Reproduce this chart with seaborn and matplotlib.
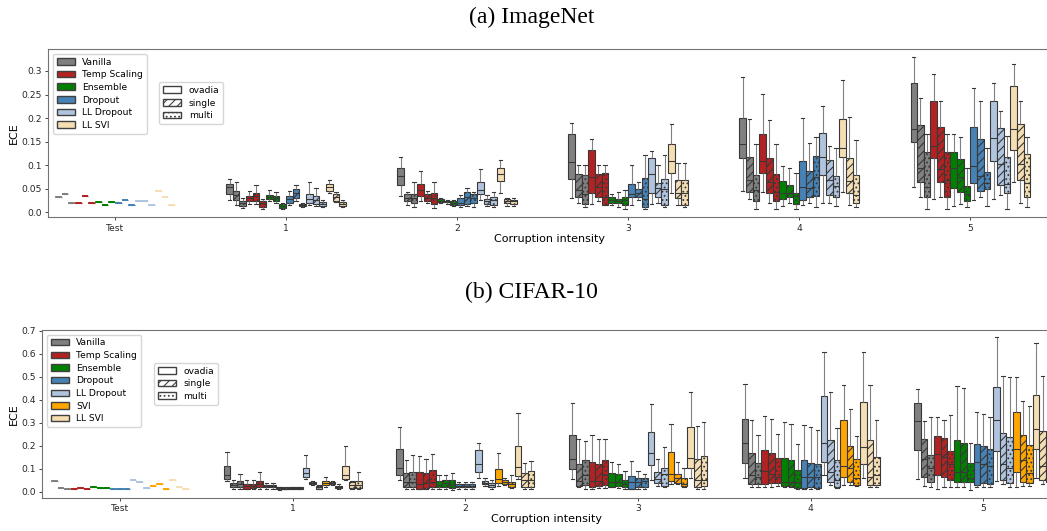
import numpy as np
import pandas as pd
import matplotlib
matplotlib.use("Agg")
import matplotlib.pyplot as plt
import seaborn as sns
from matplotlib.patches import Patch

# ---------------- data ----------------
TYPES = ["ovadia", "single", "multi"]
HATCHES = ["", "////", "...."]
INTENSITIES = ["Test", "1", "2", "3", "4", "5"]

IN_METHODS = ["Vanilla", "Temp Scaling", "Ensemble", "Dropout", "LL Dropout", "LL SVI"]
IN_COLORS = ["grey", "firebrick", "green", "steelblue", "lightsteelblue", "wheat"]
C10_METHODS = ["Vanilla", "Temp Scaling", "Ensemble", "Dropout", "LL Dropout", "SVI", "LL SVI"]
C10_COLORS = ["grey", "firebrick", "green", "steelblue", "lightsteelblue", "orange", "wheat"]

IN_YTICKS = [0.0, 0.05, 0.1, 0.15, 0.2, 0.25, 0.3]
IN_YTICKLABELS = ["0.0", "0.05", "0.1", "0.15", "0.2", "0.25", "0.3"]
C10_YTICKS = [0.0, 0.1, 0.2, 0.3, 0.4, 0.5, 0.6, 0.7]
C10_YTICKLABELS = ["0.0", "0.1", "0.2", "0.3", "0.4", "0.5", "0.6", "0.7"]

# ImageNet: test values (one per method/type), then per intensity
# each box: [whisker high, q3, median, q1, whisker low]
IN_TEST = [0.033, 0.039, 0.020, 0.019, 0.035, 0.020, 0.022, 0.016, 0.022,
           0.020, 0.026, 0.016, 0.024, 0.024, 0.015, 0.045, 0.032, 0.015]
IN_1 = [
    [0.070, 0.061, 0.053, 0.038, 0.026], [0.065, 0.045, 0.036, 0.027, 0.015], [0.030, 0.024, 0.019, 0.013, 0.010],
    [0.046, 0.035, 0.030, 0.024, 0.018], [0.057, 0.042, 0.035, 0.025, 0.018], [0.029, 0.024, 0.019, 0.012, 0.008],
    [0.047, 0.037, 0.033, 0.029, 0.023], [0.044, 0.035, 0.030, 0.024, 0.019], [0.020, 0.018, 0.013, 0.009, 0.008],
    [0.045, 0.035, 0.028, 0.020, 0.015], [0.058, 0.049, 0.042, 0.031, 0.025], [0.020, 0.018, 0.015, 0.013, 0.011],
    [0.064, 0.038, 0.028, 0.020, 0.015], [0.051, 0.035, 0.026, 0.018, 0.013], [0.026, 0.021, 0.018, 0.013, 0.011],
    [0.069, 0.061, 0.054, 0.045, 0.040], [0.044, 0.038, 0.032, 0.025, 0.022], [0.026, 0.021, 0.018, 0.013, 0.011],
]
IN_2 = [
    [0.117, 0.093, 0.076, 0.058, 0.035], [0.044, 0.038, 0.030, 0.023, 0.015], [0.064, 0.038, 0.030, 0.019, 0.011],
    [0.088, 0.061, 0.047, 0.035, 0.023], [0.045, 0.039, 0.031, 0.023, 0.019], [0.065, 0.040, 0.030, 0.018, 0.010],
    [0.030, 0.028, 0.025, 0.022, 0.019], [0.026, 0.025, 0.023, 0.021, 0.018], [0.026, 0.023, 0.020, 0.015, 0.013],
    [0.037, 0.030, 0.020, 0.015, 0.012], [0.052, 0.044, 0.033, 0.018, 0.013], [0.044, 0.039, 0.030, 0.020, 0.012],
    [0.091, 0.064, 0.047, 0.038, 0.026], [0.037, 0.028, 0.023, 0.018, 0.013], [0.044, 0.033, 0.026, 0.015, 0.012],
    [0.110, 0.095, 0.081, 0.066, 0.040], [0.031, 0.028, 0.024, 0.019, 0.013], [0.030, 0.026, 0.023, 0.018, 0.013],
]
IN_3 = [
    [0.189, 0.166, 0.106, 0.070, 0.030], [0.100, 0.081, 0.047, 0.032, 0.019], [0.100, 0.079, 0.039, 0.018, 0.012],
    [0.156, 0.132, 0.074, 0.042, 0.018], [0.100, 0.081, 0.054, 0.033, 0.025], [0.100, 0.083, 0.033, 0.016, 0.016],
    [0.039, 0.032, 0.026, 0.019, 0.016], [0.044, 0.028, 0.024, 0.019, 0.012], [0.047, 0.032, 0.026, 0.016, 0.008],
    [0.100, 0.060, 0.039, 0.033, 0.016], [0.065, 0.049, 0.042, 0.032, 0.026], [0.122, 0.072, 0.028, 0.011, 0.008],
    [0.130, 0.116, 0.081, 0.040, 0.018], [0.100, 0.062, 0.051, 0.033, 0.019], [0.122, 0.070, 0.049, 0.016, 0.012],
    [0.187, 0.145, 0.108, 0.083, 0.042], [0.104, 0.069, 0.042, 0.030, 0.016], [0.104, 0.069, 0.042, 0.016, 0.012],
]
IN_4 = [
    [0.287, 0.201, 0.144, 0.116, 0.045], [0.197, 0.118, 0.069, 0.044, 0.028], [0.144, 0.079, 0.047, 0.023, 0.007],
    [0.251, 0.166, 0.109, 0.083, 0.044], [0.195, 0.116, 0.065, 0.042, 0.019], [0.144, 0.081, 0.044, 0.023, 0.008],
    [0.098, 0.067, 0.042, 0.028, 0.013], [0.093, 0.057, 0.040, 0.032, 0.019], [0.083, 0.042, 0.035, 0.018, 0.008],
    [0.200, 0.108, 0.054, 0.026, 0.016], [0.147, 0.088, 0.051, 0.032, 0.019], [0.159, 0.120, 0.074, 0.035, 0.012],
    [0.226, 0.168, 0.118, 0.079, 0.019], [0.141, 0.111, 0.069, 0.037, 0.019], [0.136, 0.076, 0.056, 0.033, 0.013],
    [0.281, 0.198, 0.136, 0.117, 0.044], [0.202, 0.116, 0.067, 0.042, 0.016], [0.154, 0.079, 0.037, 0.019, 0.012],
]
IN_5 = [
    [0.330, 0.275, 0.176, 0.149, 0.054], [0.242, 0.185, 0.093, 0.065, 0.032], [0.166, 0.127, 0.053, 0.033, 0.007],
    [0.293, 0.236, 0.141, 0.115, 0.028], [0.237, 0.182, 0.092, 0.064, 0.032], [0.166, 0.127, 0.069, 0.032, 0.008],
    [0.166, 0.127, 0.093, 0.051, 0.014], [0.159, 0.113, 0.074, 0.044, 0.017], [0.093, 0.056, 0.039, 0.025, 0.011],
    [0.263, 0.180, 0.099, 0.062, 0.026], [0.237, 0.156, 0.077, 0.046, 0.033], [0.136, 0.085, 0.063, 0.050, 0.013],
    [0.274, 0.236, 0.157, 0.109, 0.028], [0.215, 0.178, 0.102, 0.058, 0.037], [0.161, 0.118, 0.059, 0.040, 0.008],
    [0.315, 0.268, 0.176, 0.132, 0.065], [0.236, 0.187, 0.102, 0.069, 0.019], [0.159, 0.123, 0.062, 0.032, 0.011],
]

# CIFAR-10
C10_TEST = [0.048, 0.017, 0.013, 0.012, 0.016, 0.013, 0.022, 0.016, 0.016, 0.010, 0.014,
            0.013, 0.051, 0.043, 0.017, 0.025, 0.035, 0.014, 0.051, 0.022, 0.012]
C10_1 = [
    [0.174, 0.112, 0.072, 0.054, 0.048], [0.051, 0.036, 0.028, 0.019, 0.014], [0.075, 0.046, 0.033, 0.019, 0.013],
    [0.051, 0.033, 0.025, 0.013, 0.010], [0.051, 0.033, 0.025, 0.017, 0.013], [0.084, 0.046, 0.033, 0.019, 0.014],
    [0.036, 0.029, 0.025, 0.019, 0.014], [0.036, 0.029, 0.025, 0.019, 0.014], [0.022, 0.020, 0.016, 0.010, 0.007],
    [0.019, 0.017, 0.014, 0.012, 0.010], [0.022, 0.019, 0.016, 0.013, 0.010], [0.019, 0.019, 0.016, 0.013, 0.012],
    [0.159, 0.104, 0.080, 0.062, 0.054], [0.048, 0.041, 0.036, 0.033, 0.030], [0.029, 0.025, 0.019, 0.013, 0.010],
    [0.062, 0.046, 0.039, 0.028, 0.022], [0.048, 0.043, 0.039, 0.033, 0.028], [0.033, 0.026, 0.022, 0.016, 0.013],
    [0.199, 0.113, 0.072, 0.055, 0.051], [0.048, 0.043, 0.029, 0.017, 0.013], [0.087, 0.046, 0.029, 0.017, 0.013],
]
C10_2 = [
    [0.280, 0.184, 0.104, 0.072, 0.051], [0.138, 0.080, 0.043, 0.022, 0.014], [0.159, 0.087, 0.043, 0.019, 0.010],
    [0.155, 0.084, 0.032, 0.014, 0.010], [0.142, 0.083, 0.036, 0.017, 0.012], [0.162, 0.094, 0.043, 0.022, 0.014],
    [0.072, 0.048, 0.029, 0.019, 0.014], [0.072, 0.051, 0.036, 0.022, 0.014], [0.080, 0.051, 0.029, 0.017, 0.007],
    [0.043, 0.033, 0.025, 0.019, 0.014], [0.043, 0.033, 0.025, 0.019, 0.014], [0.043, 0.033, 0.025, 0.019, 0.014],
    [0.210, 0.181, 0.120, 0.087, 0.058], [0.058, 0.046, 0.039, 0.032, 0.025], [0.051, 0.036, 0.029, 0.019, 0.014],
    [0.167, 0.097, 0.054, 0.036, 0.025], [0.058, 0.051, 0.043, 0.033, 0.028], [0.072, 0.043, 0.033, 0.022, 0.017],
    [0.343, 0.197, 0.106, 0.068, 0.055], [0.126, 0.083, 0.051, 0.022, 0.014], [0.133, 0.090, 0.051, 0.019, 0.014],
]
C10_3 = [
    [0.384, 0.246, 0.141, 0.097, 0.054], [0.228, 0.119, 0.046, 0.026, 0.019], [0.222, 0.136, 0.072, 0.029, 0.014],
    [0.246, 0.128, 0.046, 0.019, 0.014], [0.228, 0.119, 0.048, 0.025, 0.017], [0.229, 0.136, 0.072, 0.029, 0.017],
    [0.130, 0.083, 0.043, 0.022, 0.020], [0.120, 0.075, 0.043, 0.025, 0.017], [0.090, 0.051, 0.033, 0.019, 0.012],
    [0.135, 0.067, 0.043, 0.014, 0.012], [0.091, 0.058, 0.043, 0.019, 0.014], [0.075, 0.061, 0.048, 0.019, 0.014],
    [0.380, 0.261, 0.170, 0.116, 0.051], [0.141, 0.084, 0.055, 0.036, 0.026], [0.196, 0.104, 0.075, 0.026, 0.019],
    [0.293, 0.171, 0.077, 0.046, 0.032], [0.128, 0.075, 0.058, 0.036, 0.032], [0.104, 0.058, 0.033, 0.025, 0.020],
    [0.435, 0.280, 0.145, 0.101, 0.058], [0.287, 0.141, 0.049, 0.022, 0.014], [0.301, 0.154, 0.051, 0.025, 0.014],
]
C10_4 = [
    [0.467, 0.316, 0.210, 0.123, 0.058], [0.310, 0.167, 0.072, 0.033, 0.019], [0.246, 0.126, 0.065, 0.032, 0.019],
    [0.329, 0.181, 0.090, 0.033, 0.019], [0.316, 0.167, 0.075, 0.036, 0.019], [0.251, 0.145, 0.062, 0.036, 0.026],
    [0.304, 0.145, 0.043, 0.026, 0.019], [0.293, 0.138, 0.043, 0.026, 0.019], [0.206, 0.094, 0.043, 0.017, 0.010],
    [0.290, 0.136, 0.062, 0.017, 0.012], [0.280, 0.123, 0.062, 0.022, 0.014], [0.268, 0.119, 0.062, 0.017, 0.014],
    [0.606, 0.416, 0.210, 0.130, 0.072], [0.435, 0.225, 0.087, 0.041, 0.029], [0.275, 0.138, 0.051, 0.022, 0.017],
    [0.464, 0.312, 0.113, 0.065, 0.029], [0.358, 0.199, 0.104, 0.041, 0.029], [0.243, 0.142, 0.058, 0.029, 0.026],
    [0.609, 0.388, 0.196, 0.119, 0.061], [0.464, 0.225, 0.062, 0.029, 0.019], [0.312, 0.152, 0.072, 0.029, 0.019],
]
C10_5 = [
    [0.445, 0.384, 0.307, 0.181, 0.054], [0.307, 0.229, 0.141, 0.065, 0.025], [0.323, 0.159, 0.104, 0.042, 0.022],
    [0.323, 0.243, 0.162, 0.071, 0.014], [0.312, 0.232, 0.152, 0.062, 0.022], [0.333, 0.178, 0.120, 0.051, 0.022],
    [0.459, 0.225, 0.084, 0.041, 0.022], [0.449, 0.210, 0.087, 0.041, 0.022], [0.213, 0.123, 0.058, 0.041, 0.007],
    [0.345, 0.207, 0.130, 0.029, 0.022], [0.336, 0.199, 0.120, 0.036, 0.019], [0.323, 0.184, 0.113, 0.033, 0.022],
    [0.671, 0.454, 0.312, 0.178, 0.048], [0.504, 0.254, 0.120, 0.051, 0.032], [0.497, 0.236, 0.104, 0.036, 0.022],
    [0.500, 0.348, 0.186, 0.087, 0.022], [0.394, 0.246, 0.138, 0.043, 0.026], [0.374, 0.203, 0.080, 0.036, 0.025],
    [0.648, 0.420, 0.274, 0.186, 0.058], [0.504, 0.265, 0.113, 0.051, 0.032], [0.456, 0.215, 0.112, 0.043, 0.025],
]

# ---------------- style ----------------
plt.rcParams["hatch.color"] = "black"
plt.rcParams["hatch.linewidth"] = 0.8
TICK_FS = 6.6
LABEL_FS = 8.0
TITLE_FONT = dict(family="Liberation Serif", fontsize=17)


def draw(ax, methods, colors, test, groups, width, ylim, yticks, yticklabels, xlim):
    keys = [f"{m} | {t}" for m in methods for t in TYPES]
    palette = {f"{m} | {t}": c for m, c in zip(methods, colors) for t in TYPES}
    rows = [("Test", k, v) for k, v in zip(keys, test)]
    for name, grp in zip(INTENSITIES[1:], groups):
        for k, stats in zip(keys, grp):
            rows.extend((name, k, v) for v in stats)
    df = pd.DataFrame(rows, columns=["intensity", "key", "ECE"])

    sns.boxplot(data=df, x="intensity", y="ECE", hue="key", order=INTENSITIES,
                hue_order=keys, palette=palette, saturation=1, width=width,
                whis=(0, 100), showfliers=False, linewidth=0.8, linecolor="0.22",
                whiskerprops=dict(color="0.5"), legend=False, ax=ax)

    n = len(keys)
    step = width / n

    def index_of(xc):
        off = xc - round(xc)
        return int(np.clip(np.floor((off + width / 2) / step), 0, n - 1))

    for p in ax.patches:
        v = p.get_path().vertices
        xc = (v[:, 0].min() + v[:, 0].max()) / 2
        i = index_of(xc)
        p.set_hatch(HATCHES[i % 3])
        if round(xc) == 0:
            p.set_edgecolor(palette[keys[i]])
    for ln in ax.lines:
        xd = np.asarray(ln.get_xdata(), dtype=float)
        if len(xd) and xd.mean() < 0.5:
            ln.set_color(palette[keys[index_of(xd.mean())]])
            ln.set_linewidth(1.2)

    ax.set_xlim(*xlim)
    ax.set_ylim(*ylim)
    ax.set_yticks(yticks)
    ax.set_yticklabels(yticklabels)
    ax.tick_params(labelsize=TICK_FS, length=2.5, width=0.6, pad=2, colors="0.15")
    for s in ax.spines.values():
        s.set_color("0.45")
        s.set_linewidth(0.8)
    ax.set_xlabel("Corruption intensity", fontsize=LABEL_FS, labelpad=1)
    ax.set_ylabel("ECE", fontsize=LABEL_FS, labelpad=2)

    h1 = [Patch(facecolor=c, edgecolor="0.25", label=m) for m, c in zip(methods, colors)]
    leg1 = ax.legend(handles=h1, loc="upper left", fontsize=TICK_FS, borderaxespad=0.5,
                     labelspacing=0.4)
    ax.add_artist(leg1)
    h2 = [Patch(facecolor="white", edgecolor="0.25", hatch=h, label=t) for t, h in zip(TYPES, HATCHES)]
    ax.legend(handles=h2, loc="upper left", bbox_to_anchor=(0.111, 0.804),
              borderaxespad=0, fontsize=TICK_FS, labelspacing=0.4)


fig = plt.figure(figsize=(10.47, 5.31), dpi=100)
ax1 = fig.add_axes([0.0461, 0.5908, 0.9567, 0.3164])
ax2 = fig.add_axes([0.0404, 0.0627, 0.9625, 0.3158])

draw(ax1, IN_METHODS, IN_COLORS, IN_TEST, [IN_1, IN_2, IN_3, IN_4, IN_5], 0.7,
     (-0.0106, 0.346), IN_YTICKS, IN_YTICKLABELS, (-0.390, 5.465))
draw(ax2, C10_METHODS, C10_COLORS, C10_TEST, [C10_1, C10_2, C10_3, C10_4, C10_5], 0.8,
     (-0.026, 0.703), C10_YTICKS, C10_YTICKLABELS, (-0.450, 5.386))

fig.text(0.508, 1 - 17 / 531, "(a) ImageNet", ha="center", va="center", **TITLE_FONT)
fig.text(0.508, 1 - 292 / 531, "(b) CIFAR-10", ha="center", va="center", **TITLE_FONT)

fig.savefig("out.png", dpi=100)
